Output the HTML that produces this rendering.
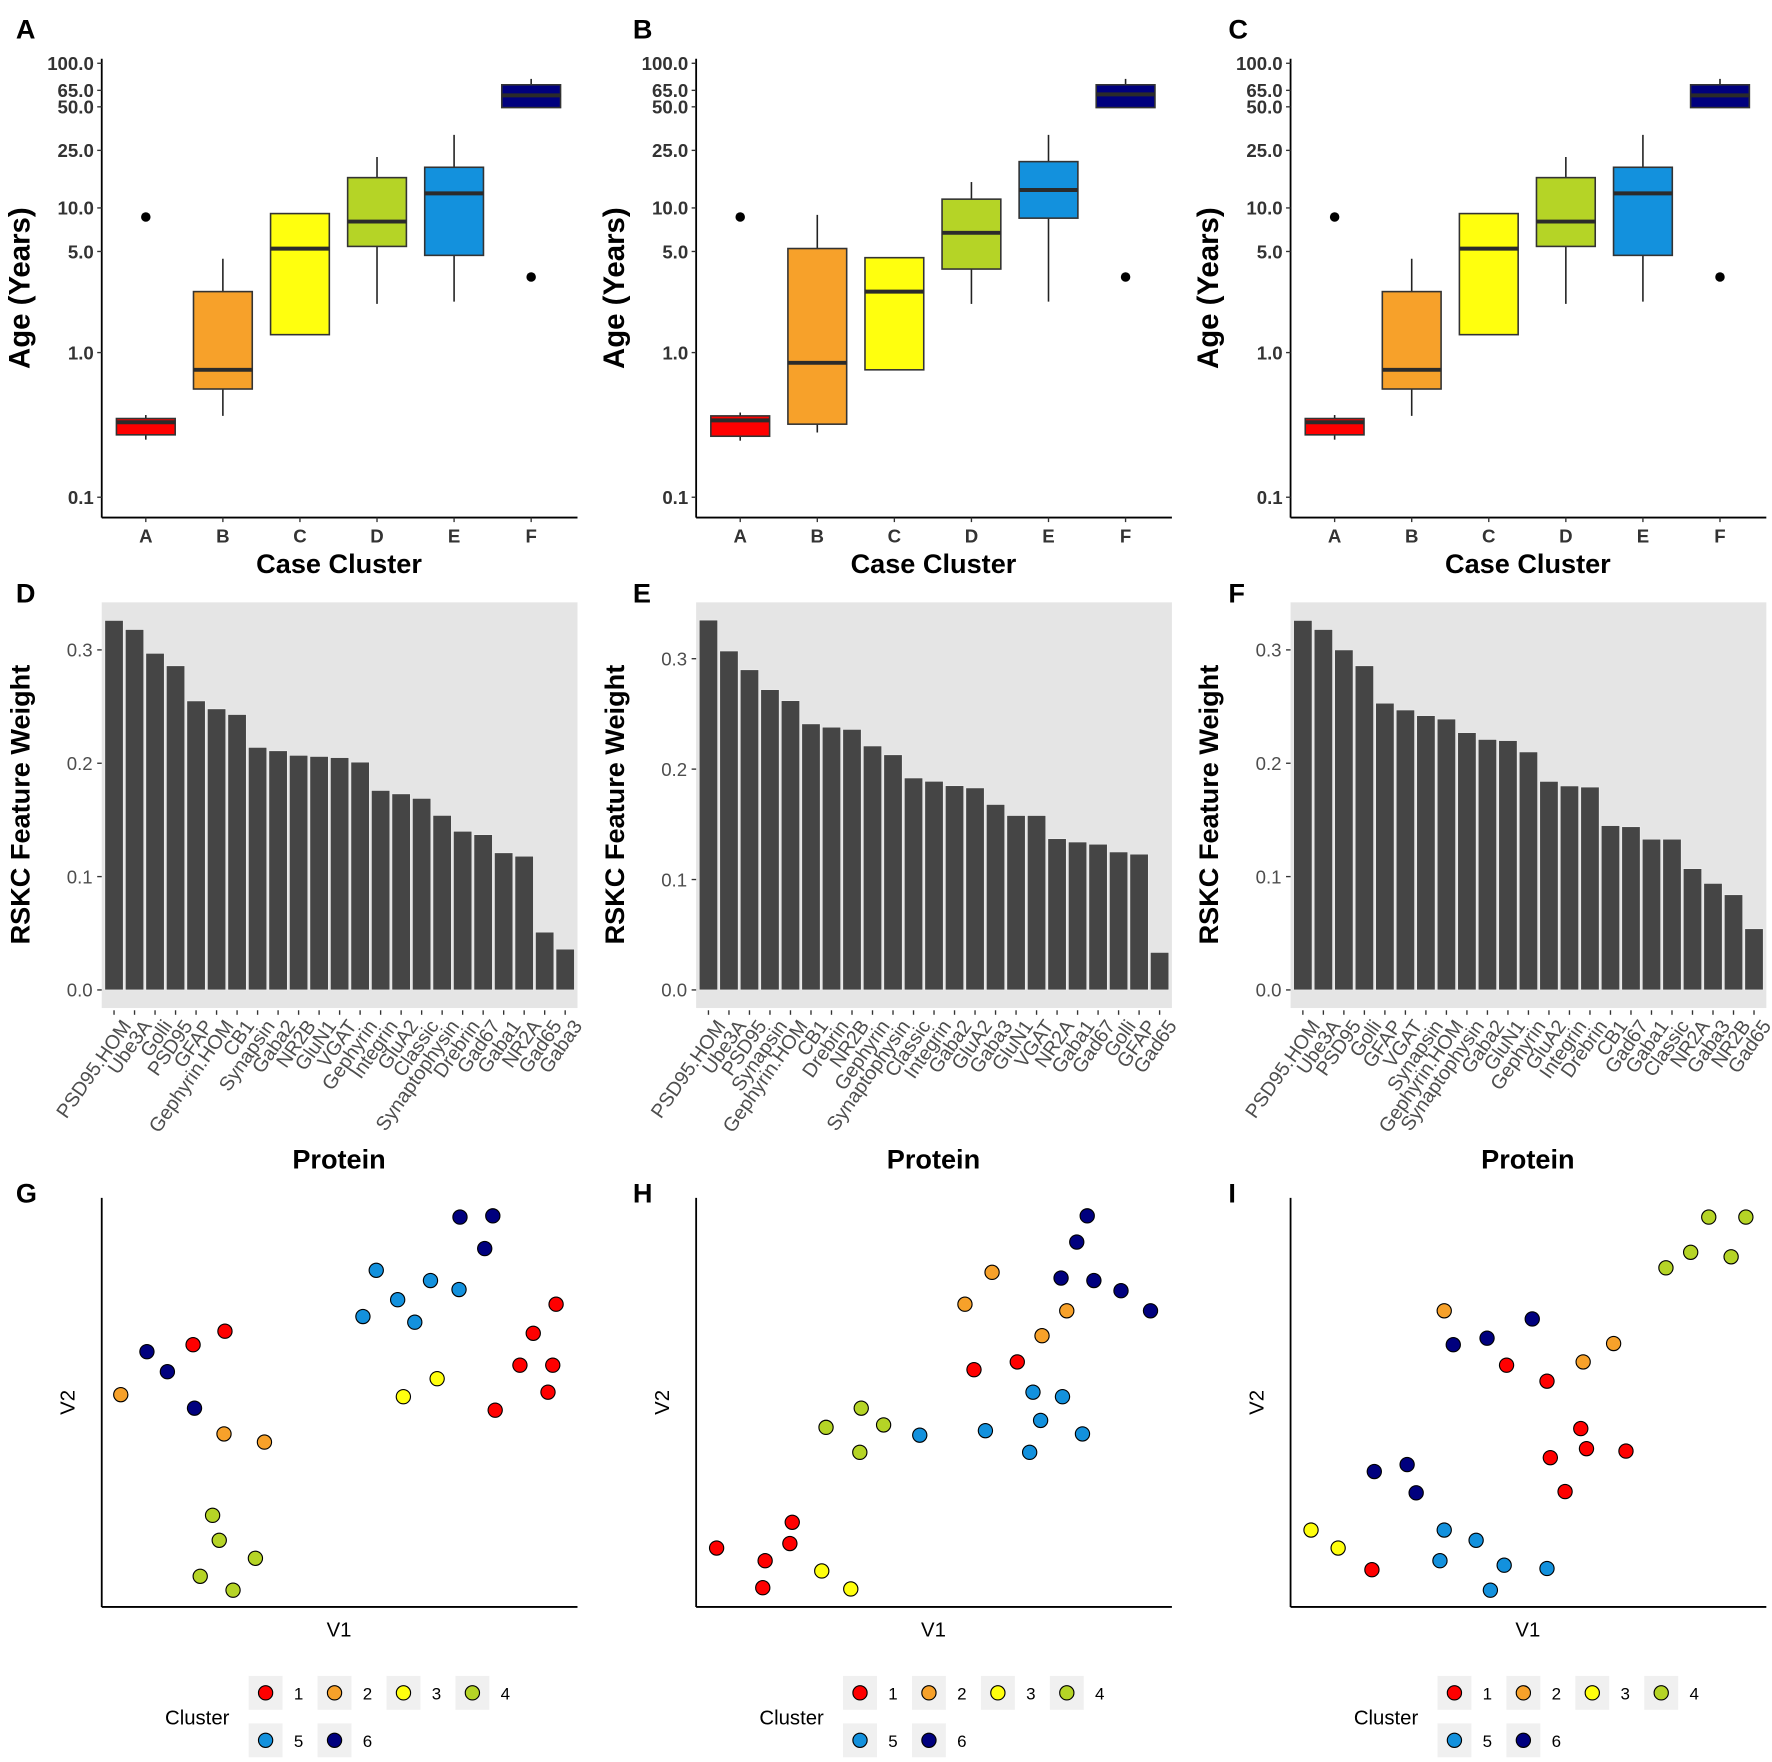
<!DOCTYPE html>
<html><head><meta charset="utf-8"><style>
html,body{margin:0;padding:0;background:#fff}
svg{display:block}
text{font-family:"Liberation Sans",Arial,sans-serif}
</style></head><body>
<svg id="fig" xmlns="http://www.w3.org/2000/svg" width="1772" height="1762" viewBox="0 0 1568 1559.2"></svg>
<script>
// ---- Box plot data (Age, years) ----
const boxCats = ["A","B","C","D","E","F"];
const boxColors = ["#ff0000","#f7a12a","#ffff0e","#b5d426","#1391dd","#00007e"];
const ageTicks = [0.1,1,5,10,25,50,65,100];
const ageTickLabels = ["0.1","1.0","5.0","10.0","25.0","50.0","65.0","100.0"];
// per panel: [lowWhisker, q1, median, q3, highWhisker]
const boxStatsA = [[0.25,0.27,0.33,0.35,0.37],[0.365,0.56,0.76,2.64,4.45],[1.33,1.33,5.23,9.14,9.14],[2.17,5.42,8.05,16.2,22.5],[2.25,4.7,12.6,19.1,32],[49.4,49.4,60,71,78]];
const boxStatsB = [[0.246,0.264,0.34,0.365,0.385],[0.28,0.32,0.85,5.24,8.95],[0.76,0.76,2.64,4.53,4.53],[2.17,3.78,6.73,11.5,15.1],[2.25,8.5,13.3,20.9,32],[49.4,49.4,61,71,78]];
const boxStatsC = boxStatsA.map(r=>r.slice());
const outliersA = [[0,8.66],[5,3.33]];
const outliersB = [[0,8.66],[5,3.33]];
const outliersC = [[0,8.66],[5,3.33]];

// ---- Bar data (RSKC feature weight) ----
const protD = ["PSD95.HOM","Ube3A","Golli","PSD95","GFAP","Gephyrin.HOM","CB1","Synapsin","Gaba2","NR2B","GluN1","VGAT","Gephyrin","Integrin","GluA2","Classic","Synaptophysin","Drebrin","Gad67","Gaba1","NR2A","Gad65","Gaba3"];
const weightD = [0.326,0.318,0.297,0.286,0.255,0.248,0.243,0.214,0.211,0.207,0.206,0.205,0.201,0.176,0.173,0.169,0.154,0.140,0.137,0.121,0.118,0.051,0.036];
const protE = ["PSD95.HOM","Ube3A","PSD95","Synapsin","Gephyrin.HOM","CB1","Drebrin","NR2B","Gephyrin","Synaptophysin","Classic","Integrin","Gaba2","GluA2","Gaba3","GluN1","VGAT","NR2A","Gaba1","Gad67","Golli","GFAP","Gad65"];
const weightE = [0.335,0.307,0.29,0.272,0.262,0.241,0.238,0.236,0.221,0.213,0.192,0.189,0.185,0.183,0.168,0.158,0.158,0.137,0.134,0.132,0.125,0.123,0.034];
const protF = ["PSD95.HOM","Ube3A","PSD95","Golli","GFAP","VGAT","Synapsin","Gephyrin.HOM","Synaptophysin","Gaba2","GluN1","Gephyrin","GluA2","Integrin","Drebrin","CB1","Gad67","Gaba1","Classic","NR2A","Gaba3","NR2B","Gad65"];
const weightF = [0.326,0.318,0.3,0.286,0.253,0.247,0.242,0.239,0.227,0.221,0.22,0.21,0.184,0.18,0.179,0.145,0.144,0.133,0.133,0.107,0.094,0.084,0.054];
const weightTicks = [0,0.1,0.2,0.3];
const weightTickLabels = ["0.0","0.1","0.2","0.3"];

// ---- Scatter data (V1, V2, cluster) ----
const clusterColors = ["#ff0000","#f7a12a","#ffff0e","#b5d426","#1391dd","#00007e"];
const v1G = [4.0,9.5,13.8,19.2,25.9,19.5,25.7,34.2,23.3,24.7,20.7,27.6,32.3,54.9,57.7,62.2,65.8,69.1,75.1,75.3,82.2,80.5,63.4,70.5,95.5,90.7,87.9,94.8,93.8,82.7];
const v2G = [51.9,62.4,57.5,64.1,67.4,48.6,42.3,40.3,22.4,16.3,7.5,4.1,11.9,71.0,82.3,75.1,69.6,79.8,77.6,95.3,95.6,87.6,51.4,55.8,74.0,66.9,59.1,59.1,52.5,48.1];
const clG = [2,6,6,1,1,6,2,2,4,4,4,4,4,5,5,5,5,5,5,6,6,6,3,3,1,1,1,1,1,1];
const v1H = [4.3,14.5,20.2,19.7,14.0,26.4,32.5,27.3,34.7,39.4,34.4,47.0,56.5,62.2,72.7,77.9,58.4,67.5,70.8,77.0,72.4,60.8,70.1,81.2,82.2,80.0,76.7,83.6,89.3,95.5];
const v2H = [14.4,11.3,20.7,15.5,4.7,8.8,4.4,43.9,48.6,44.5,37.8,42.0,74.0,81.8,66.3,72.4,58.0,59.9,52.5,51.4,45.6,43.1,37.8,42.3,95.6,89.2,80.4,79.8,77.3,72.4];
const clH = [1,1,1,1,1,3,3,4,4,4,4,5,2,2,2,2,1,1,5,5,5,5,5,5,6,6,6,6,6,6];
const v1I = [4.3,10.0,17.1,17.6,24.5,26.4,32.3,34.2,41.3,45.4,50.8,53.9,61.5,67.9,54.6,61.0,62.2,70.5,57.7,32.3,39.0,31.4,44.9,42.0,53.9,78.9,84.1,87.9,92.6,95.7];
const v2I = [18.8,14.4,9.1,33.1,34.8,27.9,72.4,64.1,65.7,59.1,70.4,55.2,59.9,64.4,36.5,43.6,38.7,38.1,28.2,18.8,16.3,11.3,10.2,4.1,9.4,82.9,86.7,95.3,85.6,95.3];
const clI = [3,3,1,6,6,6,2,6,6,1,6,1,2,2,1,1,1,1,1,5,5,5,5,5,5,4,4,4,4,4];
const legendLabels = ["1","2","3","4","5","6"];

const NS="http://www.w3.org/2000/svg";
const svg=document.getElementById('fig');
function mk(tag,attrs,parent,txt){const e=document.createElementNS(NS,tag);for(const k in attrs)e.setAttribute(k,attrs[k]);if(txt!==undefined)e.textContent=txt;(parent||svg).appendChild(e);return e;}
function grp(name){const g=mk('g',{});return g;}

// panel letters
[["A",14,34],["B",560,34],["C",1087,34],["D",14,533],["E",560,533],["F",1087,533],["G",14,1064],["H",560,1064],["I",1087,1064]].forEach(([l,x,y])=>{
  const t=mk('text',{x:x,y:y,'font-size':24,'font-weight':'bold',fill:'#000'},svg,l);
  
  
});

// ---- Box panels ----
function boxPanel(ox,stats,outs,id){
  const g=grp('boxplot-panel-'+id);
  const left=ox+90,right=ox+511,bottom=458,top=52;
  const yS=v=>312-128*Math.log10(v);
  const xS=i=>left+39+i*68.2;
  mk('line',{x1:left,y1:top,x2:left,y2:bottom,stroke:'#000','stroke-width':1.6},g);
  mk('line',{x1:left,y1:bottom,x2:right,y2:bottom,stroke:'#000','stroke-width':1.6},g);
  ageTicks.forEach((v,i)=>{
    mk('line',{x1:left-4,y1:yS(v),x2:left,y2:yS(v),stroke:'#333','stroke-width':1.2},g);
    const t=mk('text',{x:left-7,y:yS(v)+6,'text-anchor':'end','font-size':16.5,'font-weight':'bold',fill:'#333'},g,ageTickLabels[i]);
    
    
  });
  boxCats.forEach((c,i)=>{
    const x=xS(i);
    mk('line',{x1:x,y1:bottom,x2:x,y2:bottom+4,stroke:'#333','stroke-width':1.2},g);
    const t=mk('text',{x:x,y:bottom+22,'text-anchor':'middle','font-size':16.5,'font-weight':'bold',fill:'#333'},g,c);
    
    
    const s=stats[i];
    const w=mk('line',{x1:x,y1:yS(s[4]),x2:x,y2:yS(s[0]),stroke:'#222','stroke-width':1.4},g);
    
    
    const r=mk('rect',{x:x-26,y:yS(s[3]),width:52,height:yS(s[1])-yS(s[3]),fill:boxColors[i],stroke:'#333','stroke-width':1.4},g);
    
    
    mk('line',{x1:x-26,y1:yS(s[2]),x2:x+26,y2:yS(s[2]),stroke:'#2b2b2b','stroke-width':3.5},g);
  });
  outs.forEach(([ci,v])=>{
    const c=mk('circle',{cx:xS(ci),cy:yS(v),r:4.2,fill:'#000'},g);
    
    
  });
  const yt=mk('text',{x:0,y:0,transform:`translate(${ox+26},255) rotate(-90)`,'text-anchor':'middle','font-size':26,'font-weight':'bold',fill:'#000'},g,'Age (Years)');
  
  
  const xt=mk('text',{x:ox+300,y:507,'text-anchor':'middle','font-size':24,'font-weight':'bold',fill:'#000'},g,'Case Cluster');
  
  
}
boxPanel(0,boxStatsA,outliersA,'a');
boxPanel(526,boxStatsB,outliersB,'b');
boxPanel(1052,boxStatsC,outliersC,'c');

// ---- Bar panels ----
function barPanel(ox,labels,vals,zeroY,per01,id){
  const g=grp('bar-panel-'+id);
  const left=ox+90,right=ox+511,top=533,bottom=892;
  const bg=mk('rect',{x:left,y:top,width:right-left,height:bottom-top,fill:'#e5e5e5'},g);
  
  
  const yS=v=>zeroY-v*per01*10;
  const n=labels.length,band=(right-left)/(n+0.2);
  const xS=i=>left+band*(0.6+i);
  weightTicks.forEach((v,i)=>{
    mk('line',{x1:left-4,y1:yS(v),x2:left,y2:yS(v),stroke:'#333','stroke-width':1.2},g);
    const t=mk('text',{x:left-8,y:yS(v)+6,'text-anchor':'end','font-size':16.5,fill:'#4d4d4d'},g,weightTickLabels[i]);
    
    
  });
  labels.forEach((l,i)=>{
    const x=xS(i),w=band*0.9;
    const b=mk('rect',{x:x-w/2,y:yS(vals[i]),width:w,height:yS(0)-yS(vals[i]),fill:'#454545',stroke:'#eee','stroke-width':0.6},g);
    
    
    mk('line',{x1:x,y1:bottom+2,x2:x,y2:bottom+6,stroke:'#333','stroke-width':1.2},g);
    const t=mk('text',{x:0,y:0,transform:`translate(${x+6},${bottom+9}) rotate(-55)`,'text-anchor':'end','dominant-baseline':'hanging','font-size':17.5,fill:'#4d4d4d'},g,l);
    
    
  });
  const yt=mk('text',{x:0,y:0,transform:`translate(${ox+26},712) rotate(-90)`,'text-anchor':'middle','font-size':24,'font-weight':'bold',fill:'#000'},g,'RSKC Feature Weight');
  
  
  const xt=mk('text',{x:ox+300,y:1034,'text-anchor':'middle','font-size':24,'font-weight':'bold',fill:'#000'},g,'Protein');
  
  
}
barPanel(0,protD,weightD,876,100.3,'d');
barPanel(526,protE,weightE,876,97.7,'e');
barPanel(1052,protF,weightF,876,100.3,'f');

// ---- Scatter panels ----
function scatterPanel(ox,v1,v2,cl,id){
  const g=grp('scatter-panel-'+id);
  const left=ox+90,right=ox+511,top=1060,bottom=1422;
  const xS=v=>left+v*4.21, yS=v=>bottom-v*3.62;
  mk('line',{x1:left,y1:top,x2:left,y2:bottom,stroke:'#000','stroke-width':1.6},g);
  mk('line',{x1:left,y1:bottom,x2:right,y2:bottom,stroke:'#000','stroke-width':1.6},g);
  v1.forEach((v,i)=>{
    const c=mk('circle',{cx:xS(v),cy:yS(v2[i]),r:6.3,fill:clusterColors[cl[i]-1],stroke:'#000','stroke-width':1},g);
    
    
  });
  const xt=mk('text',{x:ox+300,y:1448,'text-anchor':'middle','font-size':18,fill:'#000'},g,'V1');
  
  
  const yt=mk('text',{x:0,y:0,transform:`translate(${ox+66},1241) rotate(-90)`,'text-anchor':'middle','font-size':18,fill:'#000'},g,'V2');
  
  
  // legend
  const lg=mk('g',{},g);
  
  
  const lt=mk('text',{x:ox+146,y:1526,'font-size':18,fill:'#000'},lg,'Cluster');
  
  
  legendLabels.forEach((l,i)=>{
    const row=i<4?0:1,col=i<4?i:i-4;
    const kx=ox+220+col*61,ky=1483+row*42;
    const e=mk('g',{},lg);
    
    
    mk('rect',{x:kx,y:ky,width:30,height:30,fill:'#f0f0f0'},e);
    mk('circle',{cx:kx+15,cy:ky+15,r:6.3,fill:clusterColors[i],stroke:'#000','stroke-width':1},e);
    mk('text',{x:kx+40,y:ky+21,'font-size':15,fill:'#000'},e,l);
  });
}
scatterPanel(0,v1G,v2G,clG,'g');
scatterPanel(526,v1H,v2H,clH,'h');
scatterPanel(1052,v1I,v2I,clI,'i');
</script>
</body></html>
